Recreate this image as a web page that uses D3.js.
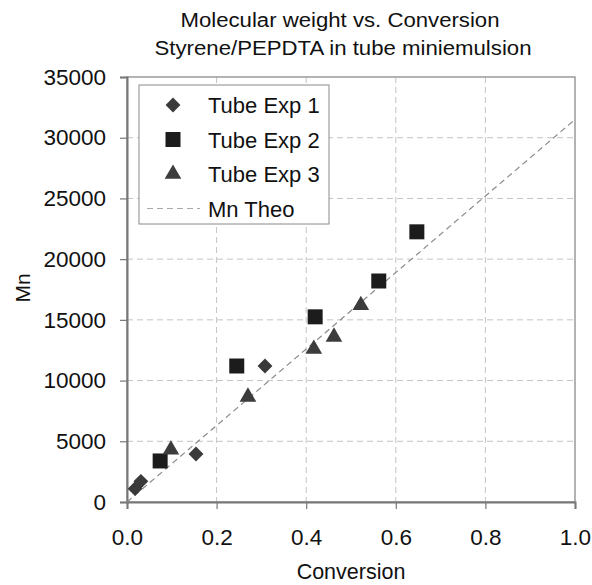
<!DOCTYPE html>
<html lang="en">
<head>
    <meta charset="UTF-8">
    <title>Molecular weight vs. Conversion</title>
    <script src="https://d3js.org/d3.v7.min.js"></script>
    <style>
        body { margin: 0; background: #fff; font-family: "Liberation Sans", Arial, sans-serif; }
        text { font-family: "Liberation Sans", Arial, sans-serif; fill: #111; }
    </style>
</head>
<body>
    <svg width="592" height="585"></svg>
    <script>
        // data
        const exp1 = [[0.018, 1100], [0.031, 1700], [0.154, 3950], [0.308, 11200]];
        const exp2 = [[0.074, 3380], [0.245, 11200], [0.42, 15250], [0.562, 18200], [0.647, 22250]];
        const exp3 = [[0.098, 4300], [0.27, 8650], [0.417, 12600], [0.462, 13600], [0.522, 16200]];
        const theoLine = [[0, 0], [1.0, 31500]];
        const xTicks = [0, 0.2, 0.4, 0.6, 0.8, 1.0];
        const yTicks = [0, 5000, 10000, 15000, 20000, 25000, 30000, 35000];
        const legendNames = ["Tube Exp 1", "Tube Exp 2", "Tube Exp 3", "Mn Theo"];

        const margin = { top: 77, right: 17, bottom: 83, left: 127 };
        const width = 592 - margin.left - margin.right;
        const height = 585 - margin.top - margin.bottom;

        const svg = d3.select("svg");
        const g = svg.append("g")
            .attr("transform", `translate(${margin.left},${margin.top})`);

        const x = d3.scaleLinear().domain([0, 1]).range([0, width]);
        const y = d3.scaleLinear().domain([0, 35000]).range([height, 0]);

        // gridlines
        g.append("g").selectAll("line")
            .data(xTicks.slice(1, -1))
            .enter().append("line")
            .attr("x1", d => x(d)).attr("x2", d => x(d))
            .attr("y1", 0).attr("y2", height)
            .attr("stroke", "#c4c4c4").attr("stroke-dasharray", "6,4");
        g.append("g").selectAll("line")
            .data(yTicks.slice(1, -1))
            .enter().append("line")
            .attr("x1", 0).attr("x2", width)
            .attr("y1", d => y(d)).attr("y2", d => y(d))
            .attr("stroke", "#c4c4c4").attr("stroke-dasharray", "6,4");

        // frame
        g.append("rect")
            .attr("width", width).attr("height", height)
            .attr("fill", "none").attr("stroke", "#9a9a9a").attr("stroke-width", 1.5);

        // axes
        const xAxis = g.append("g")
            .attr("transform", `translate(0,${height})`)
            .call(d3.axisBottom(x).tickValues(xTicks).tickFormat(d3.format(".1f")).tickSize(7).tickPadding(20));
        const yAxis = g.append("g")
            .call(d3.axisLeft(y).tickValues(yTicks).tickFormat(d => d).tickSize(7).tickPadding(14));
        [xAxis, yAxis].forEach(a => {
            a.attr("font-family", null).attr("font-size", null);
            a.select(".domain").attr("stroke", "#777").attr("stroke-width", 2);
            a.selectAll(".tick line").attr("stroke", "#777").attr("stroke-width", 1.2);
            a.selectAll(".tick text").style("font-size", "22.5px").style("fill", "#111");
        });

        // theoretical line
        const line = d3.line().x(d => x(d[0])).y(d => y(d[1]));
        g.append("path")
            .datum(theoLine)
            .attr("d", line)
            .attr("fill", "none")
            .attr("stroke", "#8a8a8a")
            .attr("stroke-width", 1.2)
            .attr("stroke-dasharray", "6,4");

        // markers
        const diamond = d3.symbol().type(d3.symbolSquare).size(110);
        const square = d3.symbol().type(d3.symbolSquare).size(225);
        const triangle = d3.symbol().type(d3.symbolTriangle).size(120);

        g.selectAll(".exp1").data(exp1).enter().append("path")
            .attr("d", diamond)
            .attr("transform", d => `translate(${x(d[0])},${y(d[1])}) rotate(45)`)
            .attr("fill", "#3a3a3a");
        g.selectAll(".exp2").data(exp2).enter().append("path")
            .attr("d", square)
            .attr("transform", d => `translate(${x(d[0])},${y(d[1])})`)
            .attr("fill", "#1c1c1c");
        g.selectAll(".exp3").data(exp3).enter().append("path")
            .attr("d", triangle)
            .attr("transform", d => `translate(${x(d[0])},${y(d[1])})`)
            .attr("fill", "#3c3c3c");

        // legend
        const legend = g.append("g").attr("transform", "translate(12,8)");
        legend.append("rect")
            .attr("width", 190).attr("height", 139)
            .attr("fill", "#fff").attr("stroke", "#8a8a8a");
        const rowY = i => 20 + i * 34.5;
        legend.append("path").attr("d", diamond)
            .attr("transform", `translate(34,${rowY(0)}) rotate(45)`).attr("fill", "#3a3a3a");
        legend.append("path").attr("d", square)
            .attr("transform", `translate(34,${rowY(1)})`).attr("fill", "#1c1c1c");
        legend.append("path").attr("d", triangle)
            .attr("transform", `translate(34,${rowY(2)})`).attr("fill", "#3c3c3c");
        legend.append("line")
            .attr("x1", 8).attr("x2", 61).attr("y1", rowY(3)).attr("y2", rowY(3))
            .attr("stroke", "#aaa").attr("stroke-width", 1.2).attr("stroke-dasharray", "6,4");
        legend.selectAll(".legend-label").data(legendNames).enter().append("text")
            .attr("class", "legend-label")
            .attr("x", 69)
            .attr("y", (d, i) => rowY(i) + 8)
            .style("font-size", "22px")
            .text(d => d);

        // titles
        svg.append("text")
            .attr("x", 340).attr("y", 27)
            .attr("text-anchor", "middle")
            .attr("textLength", 319).attr("lengthAdjust", "spacingAndGlyphs")
            .style("font-size", "20px")
            .text("Molecular weight vs. Conversion");
        svg.append("text")
            .attr("x", 343).attr("y", 55)
            .attr("text-anchor", "middle")
            .attr("textLength", 377).attr("lengthAdjust", "spacingAndGlyphs")
            .style("font-size", "20px")
            .text("Styrene/PEPDTA in tube miniemulsion");
        svg.append("text")
            .attr("x", 351).attr("y", 579)
            .attr("text-anchor", "middle")
            .style("font-size", "21.5px")
            .text("Conversion");
        svg.append("text")
            .attr("transform", "translate(29.5,288) rotate(-90)")
            .attr("text-anchor", "middle")
            .style("font-size", "21px")
            .text("Mn");
    </script>
</body>
</html>
